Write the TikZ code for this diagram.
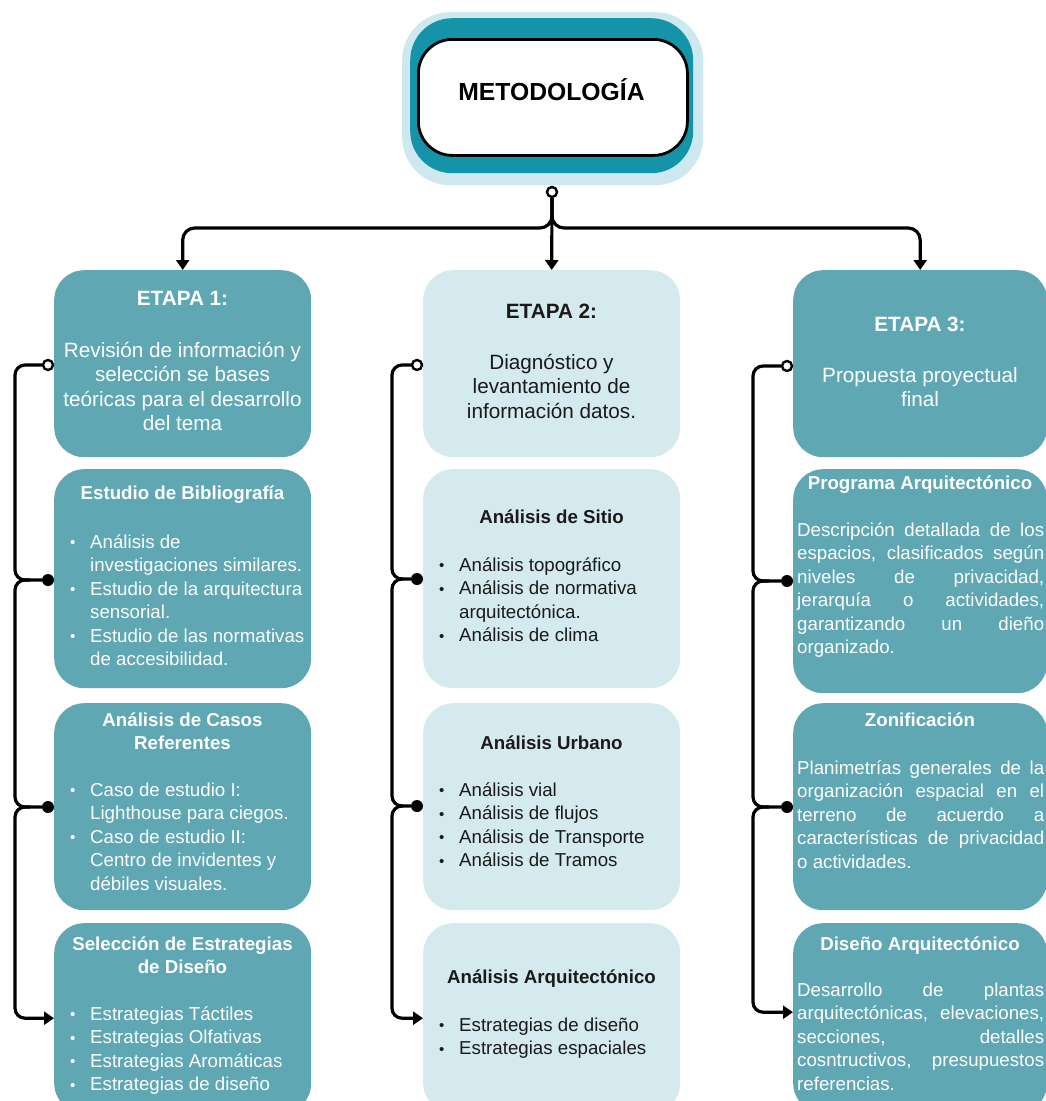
\documentclass[tikz,border=0pt]{standalone}
\usepackage{fontspec}
\setmainfont{Liberation Sans}
\usetikzlibrary{arrows.meta,calc}
\definecolor{tealbox}{HTML}{5EA7B3}
\definecolor{lightbox}{HTML}{D4EAEF}
\definecolor{dteal}{HTML}{1493A9}
\definecolor{glow}{HTML}{CDE8EE}
\definecolor{darktext}{HTML}{1A1A1A}
\newcommand\myfbody{\fontsize{18.7}{23.4}\selectfont}
\newcommand\myfhead{\fontsize{18.7}{23.2}\selectfont\bfseries}
\newcommand\myfetb{\fontsize{20.7}{24.6}\selectfont}
\newcommand\myfetapa{\fontsize{20.7}{24.6}\selectfont\bfseries}
\newcommand\myftitle{\fontsize{24.7}{28}\selectfont\bfseries}
\newcommand\myfr{\rule{0pt}{18pt}}
\newcommand\mybul{\llap{\makebox[35pt][c]{\raisebox{0.5pt}{\fontsize{15}{15}\selectfont •}}}}
\newcommand\myj[1]{\makebox[247pt][s]{#1}}
\begin{document}
\begin{tikzpicture}[x=1pt,y=-1pt,
  conn/.style={line width=3.2pt, draw=black},
  arrowend/.style={-{Triangle[width=13pt,length=10pt]}},
  ocirc/.style={circle, draw=black, fill=white, line width=2.4pt, minimum size=10pt, inner sep=0pt},
  fdot/.style={circle, fill=black, minimum size=12pt, inner sep=0pt},
  tbox/.style={fill=tealbox, rounded corners=30pt, minimum width=257pt, inner sep=0pt, anchor=north west},
  lbox/.style={tbox, fill=lightbox},
  wt/.style={inner sep=0pt, text=white},
  dt/.style={inner sep=0pt, text=darktext}]
\useasboundingbox (0,0) rectangle (1046,1101);
\clip (0,0) rectangle (1046,1101);
\fill[white] (0,0) rectangle (1046,1101);

% title
\node[fill=glow, rounded corners=48pt, minimum width=301pt, minimum height=173pt, inner sep=0pt, anchor=north west] (g0) at (402,12) {};
\node[fill=dteal, rounded corners=42pt, minimum width=283pt, minimum height=155pt, inner sep=0pt, anchor=north west] (g1) at (410,18) {};
\node[fill=white, draw=black, line width=2.8pt, rounded corners=34pt, minimum width=269pt, minimum height=116pt, inner sep=0pt, anchor=north west] (title) at (417,38) {};
\node[inner sep=0pt, font=\myftitle, anchor=base] (tt) at (551.5,100) {METODOLOGÍA};

% boxes
\node[tbox, minimum height=187pt] (b11) at (54,270) {};
\node[tbox, minimum height=219pt] (b12) at (54,469) {};
\node[tbox, minimum height=207pt] (b13) at (54,703) {};
\node[tbox, minimum height=190pt] (b14) at (54,923) {};
\node[lbox, minimum height=187pt] (b21) at (423,270) {};
\node[lbox, minimum height=219pt] (b22) at (423,469) {};
\node[lbox, minimum height=207pt] (b23) at (423,703) {};
\node[lbox, minimum height=190pt] (b24) at (423,923) {};
\node[tbox, minimum width=254pt, minimum height=187pt] (b31) at (793,270) {};
\node[tbox, minimum width=254pt, minimum height=224pt] (b32) at (793,469) {};
\node[tbox, minimum width=254pt, minimum height=207pt] (b33) at (793,703) {};
\node[tbox, minimum width=254pt, minimum height=190pt] (b34) at (793,923) {};

% circles and dots
\node[ocirc] (tc) at (552,192) {};
\node[ocirc] (c11) at (48,365) {};
\node[fdot] (d12) at (48,580) {};
\node[fdot] (d13) at (48,807) {};
\node[ocirc] (c21) at (417,365) {};
\node[fdot] (d22) at (417,579) {};
\node[fdot] (d23) at (417,806) {};
\node[ocirc] (c31) at (787,366) {};
\node[fdot] (d32) at (787,581) {};
\node[fdot] (d33) at (787,807) {};

% top connectors
\draw[conn, arrowend] (tc.south) -- (b21.north);
\draw[conn, arrowend, rounded corners=12pt] (tc.south) |- ($(b11.north)+(0,-42)$) -- (b11.north);
\draw[conn, arrowend, rounded corners=12pt] (tc.south) |- ($(b31.north)+(0,-42)$) -- (b31.north);

% column 1 bracket
\draw[conn, rounded corners=10pt] (c11.west) -| ($(d12)+(-33,0)$) -- (d12);
\draw[conn, rounded corners=10pt] ($(d12)+(-18,0)$) -| ($(d13)+(-33,0)$) -- (d13);
\draw[conn, arrowend, rounded corners=10pt] ($(d13)+(-18,0)$) -| ($(b14.west)+(-39,0)$) -- (b14.west);
% column 2 bracket
\draw[conn, rounded corners=10pt] (c21.west) -| ($(d22)+(-25,0)$) -- (d22);
\draw[conn, rounded corners=10pt] ($(d22)+(-14,0)$) -| ($(d23)+(-25,0)$) -- (d23);
\draw[conn, arrowend, rounded corners=10pt] ($(d23)+(-14,0)$) -| ($(b24.west)+(-31,0)$) -- (b24.west);
% column 3 bracket
\draw[conn, rounded corners=10pt] (c31.west) -| ($(d32)+(-34,0)$) -- (d32);
\draw[conn, rounded corners=10pt] ($(d32)+(-18,0)$) -| ($(d33)+(-34,0)$) -- (d33);
\draw[conn, arrowend, rounded corners=10pt] ($(d33)+(-18,0)$) -| ($(b34.west)+(-40,-6)$) -- ($(b34.west)+(0,-6)$);

% column 1 texts
\node[wt, font=\myfetapa, anchor=base] (h11) at (182.5,305) {ETAPA 1:};
\node[wt, font=\myfetb, align=center, anchor=north] (t11) at (182.5,338.8) {\myfr Revisión de información y\\selección se bases\\teóricas para el desarrollo\\del tema};
\node[wt, font=\myfhead, anchor=base] (h12) at (182.5,499.2) {Estudio de Bibliografía};
\node[wt, font=\myfbody, align=left, anchor=north west] (t12) at (90,530.2) {\myfr\mybul Análisis de\\investigaciones similares.\\\mybul Estudio de la arquitectura\\sensorial.\\\mybul Estudio de las normativas\\de accesibilidad.};
\node[wt, font=\myfhead, align=center, anchor=north] (h13) at (182.5,708.2) {\myfr Análisis de Casos\\Referentes};
\node[wt, font=\myfbody, align=left, anchor=north west] (t13) at (90,778.2) {\myfr\mybul Caso de estudio I:\\Lighthouse para ciegos.\\\mybul Caso de estudio II:\\Centro de invidentes y\\débiles visuales.};
\node[wt, font=\myfhead, align=center, anchor=north] (h14) at (182.5,932.2) {\myfr Selección de Estrategias\\de Diseño};
\node[wt, font=\myfbody, align=left, anchor=north west] (t14) at (90,1002.2) {\myfr\mybul Estrategias Táctiles\\\mybul Estrategias Olfativas\\\mybul Estrategias Aromáticas\\\mybul Estrategias de diseño};

% column 2 texts
\node[dt, font=\myfetapa, anchor=base] (h21) at (551.5,318.8) {ETAPA 2:};
\node[dt, font=\myfetb, align=center, anchor=north] (t21) at (551.5,350.8) {\myfr Diagnóstico y\\levantamiento de\\información datos.};
\node[dt, font=\myfhead, anchor=base] (h22) at (551.5,523.2) {Análisis de Sitio};
\node[dt, font=\myfbody, align=left, anchor=north west] (t22) at (459,553.2) {\myfr\mybul Análisis topográfico\\\mybul Análisis de normativa\\arquitectónica.\\\mybul Análisis de clima};
\node[dt, font=\myfhead, anchor=base] (h23) at (551.5,749.2) {Análisis Urbano};
\node[dt, font=\myfbody, align=left, anchor=north west] (t23) at (459,778.2) {\myfr\mybul Análisis vial\\\mybul Análisis de flujos\\\mybul Análisis de Transporte\\\mybul Análisis de Tramos};
\node[dt, font=\myfhead, anchor=base] (h24) at (551.5,983.2) {Análisis Arquitectónico};
\node[dt, font=\myfbody, align=left, anchor=north west] (t24) at (459,1013.2) {\myfr\mybul Estrategias de diseño\\\mybul Estrategias espaciales};

% column 3 texts
\node[wt, font=\myfetapa, anchor=base] (h31) at (920,331.8) {ETAPA 3:};
\node[wt, font=\myfetb, align=center, anchor=north] (t31) at (920,363.8) {\myfr Propuesta proyectual\\final};
\node[wt, font=\myfhead, anchor=base] (h32) at (920,489.2) {Programa Arquitectónico};
\node[wt, font=\myfbody, align=left, anchor=north west] (t32) at (797,518.2) {\myfr\myj{Descripción detallada de los}\\\myj{espacios, clasificados según}\\\myj{niveles de privacidad,}\\\myj{jerarquía o actividades,}\\\myj{garantizando un dieño}\\organizado.};
\node[wt, font=\myfhead, anchor=base] (h33) at (920,726.2) {Zonificación};
\node[wt, font=\myfbody, align=left, anchor=north west] (t33) at (797,756.2) {\myfr\myj{Planimetrías generales de la}\\\myj{organización espacial en el}\\\myj{terreno de acuerdo a}\\\myj{características de privacidad}\\o actividades.};
\node[wt, font=\myfhead, anchor=base] (h34) at (920,950.2) {Diseño Arquitectónico};
\node[wt, font=\myfbody, align=left, anchor=north west] (t34) at (797,978.2) {\myfr\myj{Desarrollo de plantas}\\\myj{arquitectónicas, elevaciones,}\\\myj{secciones, detalles}\\\myj{cosntructivos, presupuestos}\\referencias.};
\end{tikzpicture}
\end{document}
